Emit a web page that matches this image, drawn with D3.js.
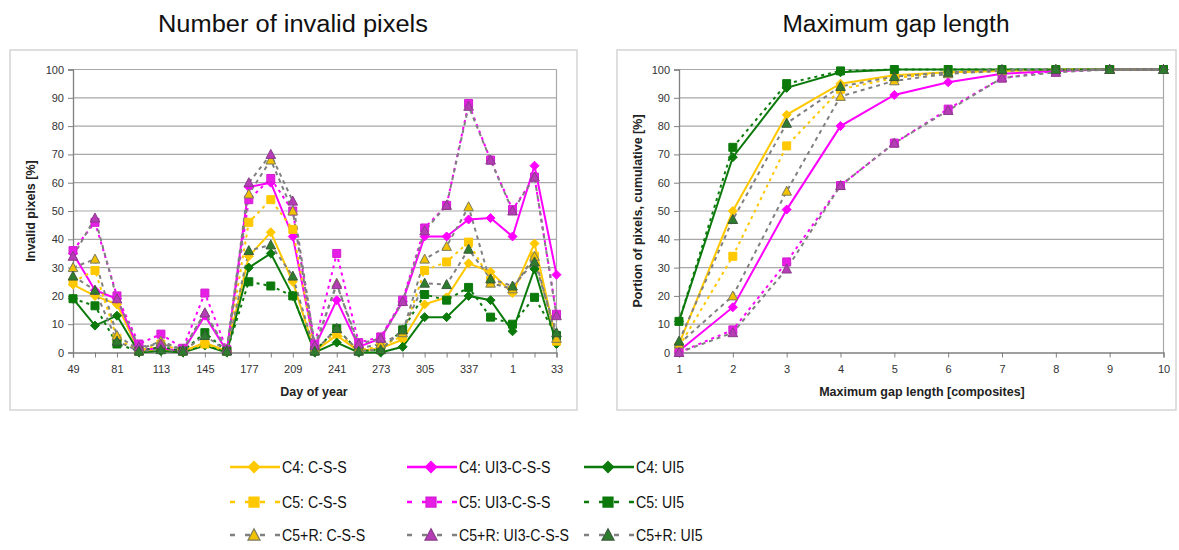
<!DOCTYPE html>
<html>
<head>
<meta charset="utf-8">
<script src="https://cdnjs.cloudflare.com/ajax/libs/d3/7.8.5/d3.min.js"></script>
<style>
	body { margin: 0; background: #fff; }
	svg { display: block; font-family: "Liberation Sans", Arial, sans-serif; }
	.tick-label { font-size: 11px; fill: #333; }
	.axis-title { font-size: 12.5px; font-weight: bold; fill: #222; }
	.chart-title { font-size: 23px; fill: #111; }
	.legend-text { font-size: 16.5px; fill: #111; }
</style>
</head>
<body>
<svg id="chart" width="1179" height="550"></svg>
<script>
// day of year of each composite (the series wraps into the next year)
var days = ["49", "65", "81", "97", "113", "129", "145", "161", "177", "193", "209", "225",
	"241", "257", "273", "289", "305", "321", "337", "353", "1", "17", "33"];
var dayLabels = ["49", "81", "113", "145", "177", "209", "241", "273", "305", "337", "1", "33"];
var percentTicks = [0, 10, 20, 30, 40, 50, 60, 70, 80, 90, 100];

// invalid pixels [%] per composite
var invC4CSS = [24, 20, 17, 0.5, 1, 0.5, 3.5, 0.5, 34, 42.5, 25, 0.5, 6, 0.5, 1.5, 4.5, 17, 19.5, 31.5, 28.5, 21, 38.5, 4];
var invC4UI3 = [35, 22, 19, 1, 1.5, 0.5, 13, 0.5, 58.5, 60, 41, 2, 18.5, 2, 5, 18, 41, 41, 47, 47.5, 41, 66, 27.5];
var invC4UI5 = [19, 9.5, 13, 0, 0.5, 0, 2.5, 0, 30, 35, 20, 0, 3.5, 0, 0, 2, 12.5, 12.5, 20, 18.5, 7.5, 29.5, 3];
var invC5CSS = [25, 29, 5, 0.5, 3, 0.5, 3, 0.5, 46, 54, 43.5, 1, 7, 1, 2, 6, 29, 32, 39, 25.5, 22, 34, 4];
var invC5UI3 = [36, 46, 20, 3, 6.5, 1.5, 21, 1, 54, 61.5, 50, 3, 35, 3.5, 5.5, 18.5, 44, 52, 88, 68, 50.5, 62, 13.5];
var invC5UI5 = [19, 16.5, 3, 0.5, 2, 0.5, 7, 0.5, 25, 23.5, 20, 0.5, 8.5, 0.5, 1, 8, 20.5, 18.5, 23, 12.5, 10, 19.5, 6];
var invC5RCSS = [30, 33, 6, 1, 4, 1, 14, 1, 56, 68, 50, 1.5, 24.5, 1.5, 3, 7, 33, 37.5, 51.5, 24.5, 22.5, 34, 5];
var invC5RUI3 = [34, 47.5, 19, 2, 3, 1, 14, 1, 60, 70, 53.5, 2.5, 24, 3, 5, 18, 43, 52, 87, 68, 50, 62, 13];
var invC5RUI5 = [27, 22, 4, 0.5, 1, 0.5, 6, 0.5, 36, 38, 27, 0.5, 8.5, 0.5, 1, 8, 24.5, 24, 36.5, 26, 23.5, 32, 7];

// cumulative portion of pixels [%] per maximum gap length
var gapLengths = [1, 2, 3, 4, 5, 6, 7, 8, 9, 10];
var gapC4CSS = [3, 50, 84, 95, 98, 99, 99.5, 100, 100, 100];
var gapC4UI3 = [0.5, 16, 50.5, 80, 91, 95.5, 98.5, 99.5, 100, 100];
var gapC4UI5 = [11, 69, 93.5, 99, 100, 100, 100, 100, 100, 100];
var gapC5CSS = [2, 34, 73, 93, 97, 99, 99.5, 100, 100, 100];
var gapC5UI3 = [0, 8, 32, 59, 74, 86, 97, 99.5, 100, 100];
var gapC5UI5 = [11, 72.5, 95, 99.5, 100, 100, 100, 100, 100, 100];
var gapC5RCSS = [3, 20, 57, 90.5, 96, 98.5, 99.5, 100, 100, 100];
var gapC5RUI3 = [0, 7, 29.5, 59, 74, 85.5, 97, 99, 100, 100];
var gapC5RUI5 = [4, 47, 81, 94, 97.5, 99, 100, 100, 100, 100];

var seriesNames = ["C4: C-S-S", "C4: UI3-C-S-S", "C4: UI5",
	"C5: C-S-S", "C5: UI3-C-S-S", "C5: UI5",
	"C5+R: C-S-S", "C5+R: UI3-C-S-S", "C5+R: UI5"];

var yellow = "#FFC800", magenta = "#FF00FF", green = "#0B7A0B", grey = "#808080";

// styling per series, same order as seriesNames
var styles = [
	{ line: yellow, dash: null, marker: "diamond", fill: yellow, stroke: yellow },
	{ line: magenta, dash: null, marker: "diamond", fill: magenta, stroke: magenta },
	{ line: green, dash: null, marker: "diamond", fill: green, stroke: green },
	{ line: yellow, dash: "3,4", marker: "square", fill: yellow, stroke: yellow },
	{ line: magenta, dash: "3,4", marker: "square", fill: "#E61EE6", stroke: "#D21ED2" },
	{ line: green, dash: "3,4", marker: "square", fill: green, stroke: green },
	{ line: grey, dash: "4,4", marker: "triangle", fill: "#F2C200", stroke: "#7a7a60" },
	{ line: grey, dash: "4,4", marker: "triangle", fill: "#B53DB5", stroke: "#8a3a8a" },
	{ line: grey, dash: "4,4", marker: "triangle", fill: "#2E7D2E", stroke: "#3a5a3a" }
];

var svg = d3.select("#chart");

function markerPath(type) {
	if (type == "diamond") return "M0,-4.5L4.5,0L0,4.5L-4.5,0Z";
	if (type == "square") return "M-4,-4H4V4H-4Z";
	return "M0,-5L4.8,4L-4.8,4Z";
}

function drawMarker(group, type, fill, stroke, x, y) {
	return group.append("path")
		.attr("d", markerPath(type))
		.attr("transform", "translate(" + x + "," + y + ")")
		.attr("fill", fill)
		.attr("stroke", stroke)
		.attr("stroke-width", 1);
}

// frame, gridlines, axes and series of one chart
function drawChart(options) {
	var x = options.x, y = options.y;
	var left = x.range()[0], right = x.range()[1];
	var top = y.range()[1], bottom = y.range()[0];
	var g = svg.append("g");

	g.append("rect")
		.attr("x", options.frame[0]).attr("y", options.frame[1])
		.attr("width", options.frame[2]).attr("height", options.frame[3])
		.attr("fill", "none").attr("stroke", "#d4d4d4").attr("stroke-width", 1.5);

	g.append("text").attr("class", "chart-title")
		.attr("x", options.titleX).attr("y", 32)
		.attr("text-anchor", "middle")
		.attr("textLength", options.titleWidth).attr("lengthAdjust", "spacingAndGlyphs")
		.text(options.title);

	// horizontal gridlines
	g.selectAll(".grid").data(percentTicks.filter(function(d) { return d > 0; }))
		.enter().append("line")
		.attr("x1", left).attr("x2", right)
		.attr("y1", function(d) { return y(d); }).attr("y2", function(d) { return y(d); })
		.attr("stroke", "#a8a8a8").attr("stroke-width", 1.2);
	// right border of the plot area
	g.append("line").attr("x1", right).attr("x2", right).attr("y1", top).attr("y2", bottom)
		.attr("stroke", "#a8a8a8").attr("stroke-width", 1.2);

	// y axis
	var yAxis = g.append("g").attr("transform", "translate(" + left + ",0)")
		.call(d3.axisLeft(y).tickValues(percentTicks).tickSize(5).tickPadding(4));
	// x axis
	var xAxis = g.append("g").attr("transform", "translate(0," + bottom + ")")
		.call(d3.axisBottom(x).tickValues(options.tickValues).tickSize(5).tickPadding(8)
			.tickFormat(options.tickFormat));
	[yAxis, xAxis].forEach(function(axis) {
		axis.attr("font-size", null).attr("font-family", null);
		axis.select(".domain").attr("stroke", "#808080").attr("stroke-width", 1.3);
		axis.selectAll(".tick line").attr("stroke", "#808080");
		axis.selectAll(".tick text").attr("class", "tick-label").attr("fill", null);
	});

	g.append("text").attr("class", "axis-title")
		.attr("transform", "translate(" + options.yTitleX + "," + ((top + bottom) / 2) + ") rotate(-90)")
		.attr("text-anchor", "middle").text(options.yTitle);
	g.append("text").attr("class", "axis-title")
		.attr("x", options.xTitleX).attr("y", 396)
		.attr("text-anchor", "middle").text(options.xTitle);

	// series lines first, markers on top
	options.series.forEach(function(values, i) {
		var style = styles[i];
		var line = d3.line()
			.x(function(d, j) { return x(options.domain[j]); })
			.y(function(d) { return y(d); });
		g.append("path").datum(values)
			.attr("d", line)
			.attr("fill", "none")
			.attr("stroke", style.line)
			.attr("stroke-width", 2)
			.attr("stroke-dasharray", style.dash);
	});
	options.series.forEach(function(values, i) {
		var style = styles[i];
		var markers = g.append("g");
		values.forEach(function(v, j) {
			drawMarker(markers, style.marker, style.fill, style.stroke, x(options.domain[j]), y(v));
		});
	});
}

var yLeft = d3.scaleLinear().domain([0, 100]).range([352.5, 69.5]);
var xDays = d3.scalePoint().domain(days).range([73, 556.5]).padding(0);
var yRight = d3.scaleLinear().domain([0, 100]).range([352.5, 69.5]);
var xGap = d3.scaleLinear().domain([1, 10]).range([679, 1163.5]);

drawChart({
	x: xDays, y: yLeft, domain: days,
	tickValues: days,
	tickFormat: function(d) { return dayLabels.indexOf(d) >= 0 ? d : ""; },
	frame: [10, 50, 567, 360],
	title: "Number of invalid pixels", titleX: 293, titleWidth: 270,
	yTitle: "Invalid pixels [%]", yTitleX: 35,
	xTitle: "Day of year", xTitleX: 314,
	series: [invC4CSS, invC4UI3, invC4UI5, invC5CSS, invC5UI3, invC5UI5, invC5RCSS, invC5RUI3, invC5RUI5]
});

drawChart({
	x: xGap, y: yRight, domain: gapLengths,
	tickValues: gapLengths,
	tickFormat: d3.format("d"),
	frame: [617, 50, 559, 360],
	title: "Maximum gap length", titleX: 896, titleWidth: 227,
	yTitle: "Portion of pixels, cumulative [%]", yTitleX: 642,
	xTitle: "Maximum gap length [composites]", xTitleX: 922,
	series: [gapC4CSS, gapC4UI3, gapC4UI5, gapC5CSS, gapC5UI3, gapC5UI5, gapC5RCSS, gapC5RUI3, gapC5RUI5]
});

// legend: 3 columns (product) by 3 rows (composite type)
var legendCols = [230, 407, 584];
var legendRows = [467, 502, 535];
var legend = svg.append("g");
seriesNames.forEach(function(name, i) {
	var style = styles[i];
	var lx = legendCols[i % 3], ly = legendRows[Math.floor(i / 3)];
	legend.append("line")
		.attr("x1", lx).attr("x2", lx + 50).attr("y1", ly).attr("y2", ly)
		.attr("stroke", style.line).attr("stroke-width", 2.5)
		.attr("stroke-dasharray", style.dash ? "5,10" : null);
	drawMarker(legend, style.marker, style.fill, style.stroke, 0, 0)
		.attr("transform", "translate(" + (lx + 24) + "," + ly + ") scale(1.25)");
	// the legend font is a narrow one, squeeze it horizontally
	legend.append("text").attr("class", "legend-text")
		.attr("transform", "translate(" + (lx + 52) + "," + (ly + 6) + ") scale(0.86,1)")
		.text(name);
});
</script>
</body>
</html>
